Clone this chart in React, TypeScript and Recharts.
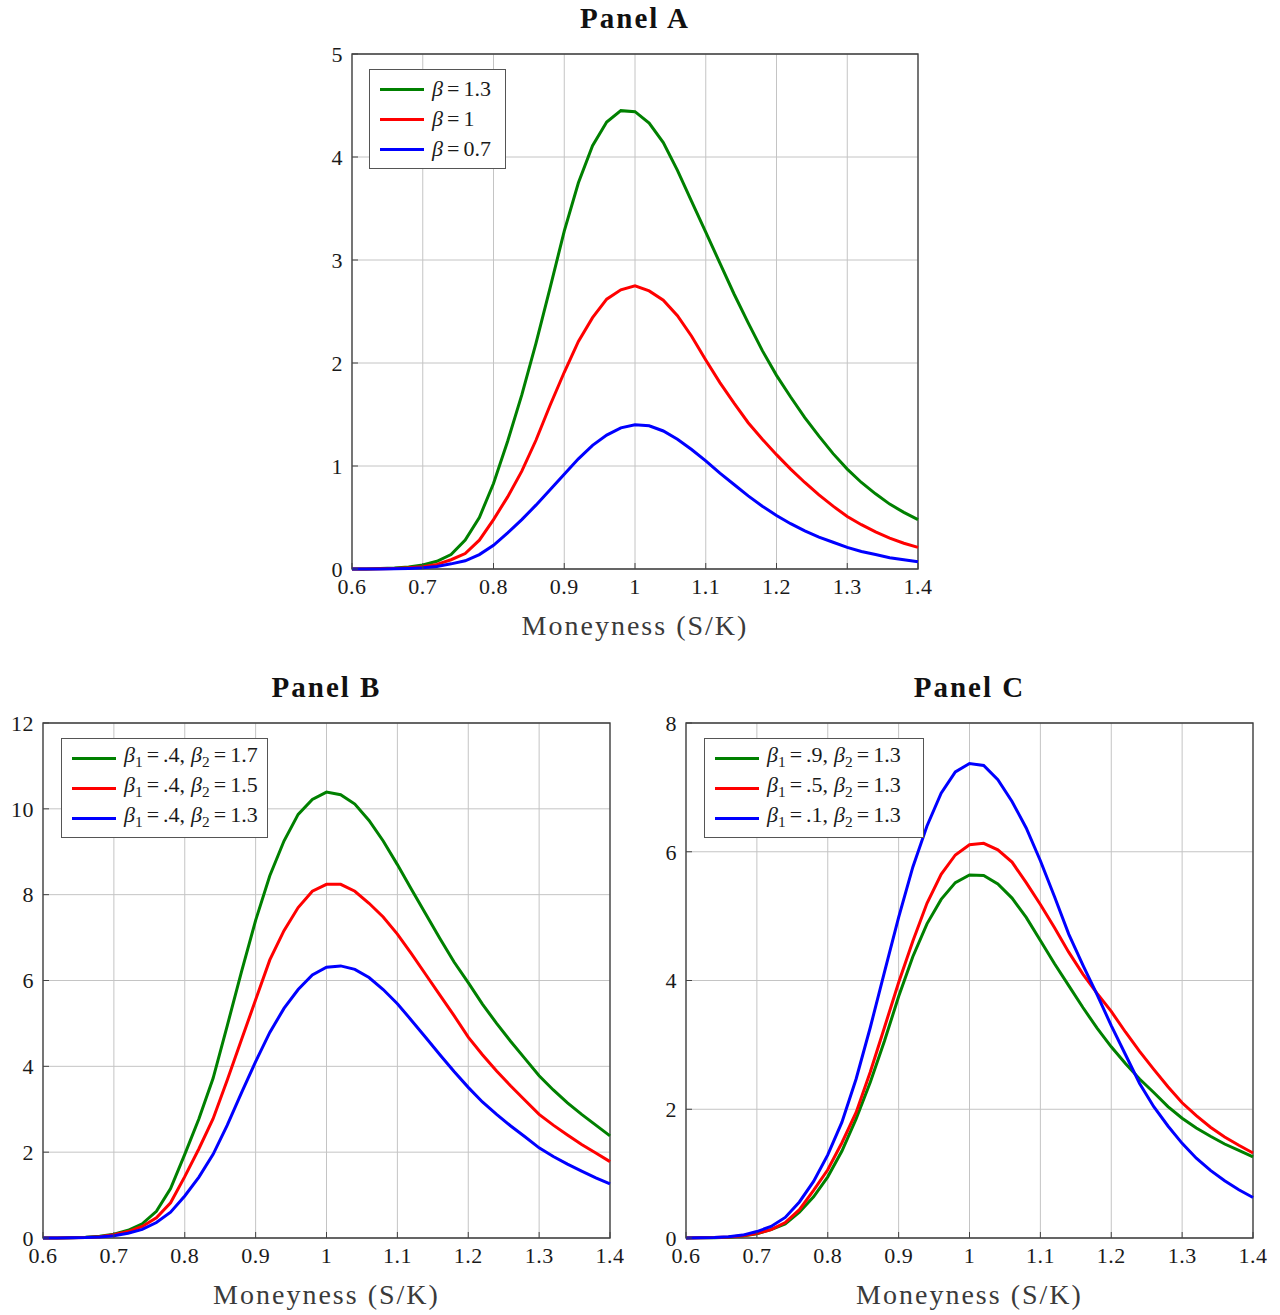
import React from 'react';
import { LineChart, Line, XAxis, YAxis, CartesianGrid, ReferenceArea } from 'recharts';

const MONEYNESS = [
  0.6, 0.62, 0.64, 0.66, 0.68, 0.7, 0.72, 0.74, 0.76, 0.78, 0.8, 0.82, 0.84, 0.86,
  0.88, 0.9, 0.92, 0.94, 0.96, 0.98, 1, 1.02, 1.04, 1.06, 1.08, 1.1, 1.12, 1.14,
  1.16, 1.18, 1.2, 1.22, 1.24, 1.26, 1.28, 1.3, 1.32, 1.34, 1.36, 1.38, 1.4,
];
const X_TICKS = [0.6, 0.7, 0.8, 0.9, 1, 1.1, 1.2, 1.3, 1.4];

// Panel A
const A_BETA_13 = [
  0, 0.001, 0.004, 0.01, 0.02, 0.04, 0.075, 0.14, 0.28, 0.5, 0.83, 1.24, 1.69, 2.19,
  2.73, 3.28, 3.75, 4.11, 4.34, 4.45, 4.44, 4.33, 4.14, 3.87, 3.57, 3.27, 2.97, 2.67,
  2.39, 2.12, 1.88, 1.67, 1.47, 1.29, 1.12, 0.97, 0.84, 0.73, 0.63, 0.55, 0.48,
];
const A_BETA_10 = [
  0, 0.0005, 0.002, 0.006, 0.012, 0.022, 0.045, 0.09, 0.15, 0.28, 0.48, 0.7, 0.95, 1.25,
  1.59, 1.91, 2.21, 2.44, 2.62, 2.71, 2.75, 2.7, 2.61, 2.46, 2.26, 2.03, 1.81, 1.61,
  1.42, 1.26, 1.11, 0.97, 0.84, 0.72, 0.61, 0.51, 0.43, 0.36, 0.3, 0.25, 0.21,
];
const A_BETA_07 = [
  0, 0.0003, 0.001, 0.003, 0.006, 0.012, 0.025, 0.05, 0.08, 0.14, 0.23, 0.35, 0.48, 0.62,
  0.77, 0.92, 1.07, 1.2, 1.3, 1.37, 1.4, 1.39, 1.34, 1.26, 1.16, 1.05, 0.93, 0.82,
  0.71, 0.61, 0.52, 0.44, 0.37, 0.31, 0.26, 0.21, 0.17, 0.14, 0.11, 0.09, 0.07,
];
const A_TICKS = [0, 1, 2, 3, 4, 5];

// Panel B
const B_B2_17 = [
  0, 0.001, 0.005, 0.015, 0.04, 0.09, 0.18, 0.33, 0.62, 1.15, 1.95, 2.78, 3.72, 4.95,
  6.2, 7.4, 8.44, 9.25, 9.87, 10.22, 10.39, 10.33, 10.11, 9.73, 9.25, 8.7, 8.12, 7.55,
  6.98, 6.43, 5.95, 5.45, 5.0, 4.58, 4.18, 3.78, 3.45, 3.15, 2.88, 2.63, 2.38,
];
const B_B2_15 = [
  0, 0.001, 0.004, 0.012, 0.03, 0.075, 0.15, 0.27, 0.47, 0.82, 1.43, 2.08, 2.78, 3.68,
  4.62, 5.55, 6.48, 7.16, 7.7, 8.08, 8.24, 8.24, 8.08, 7.8, 7.48, 7.08, 6.62, 6.14,
  5.66, 5.18, 4.68, 4.27, 3.89, 3.54, 3.21, 2.88, 2.63, 2.4, 2.18, 1.98, 1.78,
];
const B_B2_13 = [
  0, 0.001, 0.003, 0.009, 0.025, 0.055, 0.11, 0.2, 0.36, 0.6, 0.98, 1.42, 1.95, 2.63,
  3.38, 4.11, 4.79, 5.35, 5.79, 6.13, 6.31, 6.34, 6.26, 6.07, 5.79, 5.46, 5.07, 4.67,
  4.27, 3.88, 3.51, 3.17, 2.88, 2.61, 2.36, 2.1, 1.9, 1.72, 1.56, 1.4, 1.26,
];
const B_TICKS = [0, 2, 4, 6, 8, 10, 12];

// Panel C
const C_B1_09 = [
  0.001, 0.002, 0.005, 0.013, 0.03, 0.065, 0.13, 0.22, 0.4, 0.64, 0.95, 1.35, 1.85, 2.42,
  3.06, 3.75, 4.37, 4.88, 5.26, 5.52, 5.64, 5.63, 5.5, 5.28, 4.98, 4.62, 4.26, 3.92,
  3.58, 3.26, 2.97, 2.71, 2.47, 2.26, 2.04, 1.86, 1.71, 1.58, 1.46, 1.36, 1.26,
];
const C_B1_05 = [
  0.001, 0.002, 0.006, 0.015, 0.035, 0.07, 0.13, 0.24, 0.44, 0.74, 1.06, 1.48, 1.95, 2.58,
  3.27, 3.97, 4.61, 5.2, 5.65, 5.95, 6.11, 6.13, 6.03, 5.84, 5.52, 5.18, 4.82, 4.44,
  4.1, 3.8, 3.52, 3.2, 2.9, 2.62, 2.35, 2.1, 1.9, 1.72, 1.57, 1.44, 1.32,
];
const C_B1_01 = [
  0.001, 0.003, 0.008, 0.02, 0.045, 0.1, 0.18, 0.32, 0.56, 0.88, 1.29, 1.8, 2.47, 3.27,
  4.13, 4.98, 5.76, 6.4, 6.91, 7.24, 7.37, 7.34, 7.12, 6.78, 6.37, 5.86, 5.3, 4.72,
  4.24, 3.78, 3.3, 2.85, 2.4, 2.04, 1.74, 1.47, 1.24, 1.05, 0.89, 0.75, 0.63,
];
const C_TICKS = [0, 2, 4, 6, 8];

const GREEN = '#008000';
const RED = '#ff0000';
const BLUE = '#0000ff';
const FONT = 'Liberation Serif, DejaVu Serif, serif';

type LegendItem = { color: string; label: React.ReactNode };
type SeriesDef = { key: string; color: string; values: number[] };

const Beta = ({ sub }: { sub?: string }) => (
  <span>
    <span style={{ fontStyle: 'italic' }}>β</span>
    {sub && <sub style={{ fontSize: '0.7em', verticalAlign: '-0.3em' }}>{sub}</sub>}
  </span>
);
const Eq = () => <span style={{ margin: '0 4px' }}>=</span>;
const Comma = () => <span style={{ marginRight: 6 }}>,</span>;

const fmtX = (v: number) => (Math.abs(v - 1) < 1e-9 ? '1' : String(v));

interface PanelProps {
  title: string;
  left: number;
  top: number;
  plotW: number;
  plotH: number;
  yMax: number;
  yTicks: number[];
  series: SeriesDef[];
  legend: LegendItem[];
  legendBox: { left: number; top: number; width: number };
}

const Panel: React.FC<PanelProps> = ({ title, left, top, plotW, plotH, yMax, yTicks, series, legend, legendBox }) => {
  const data = MONEYNESS.map((x, i) => {
    const row: Record<string, number> = { x };
    series.forEach((s) => {
      row[s.key] = s.values[i];
    });
    return row;
  });
  const tickStyle = { fontFamily: FONT, fontSize: 22, fill: '#1a1a1a', letterSpacing: 0.5 };

  return (
    <>
      <div
        style={{
          position: 'absolute',
          left,
          top: top - 52,
          width: plotW,
          textAlign: 'center',
          fontFamily: FONT,
          fontWeight: 'bold',
          fontSize: 29,
          letterSpacing: 2,
          color: '#111',
        }}
      >
        {title}
      </div>
      <div style={{ position: 'absolute', left: left - 60, top: top - 20 }}>
        <LineChart width={plotW + 90} height={plotH + 100} data={data} margin={{ top: 20, right: 30, bottom: 0, left: 0 }}>
          <CartesianGrid stroke="#c4c4c4" strokeWidth={1} />
          <XAxis
            dataKey="x"
            type="number"
            domain={[0.6, 1.4]}
            ticks={X_TICKS}
            tickFormatter={fmtX}
            height={80}
            axisLine={false}
            tickSize={-6}
            tickMargin={15}
            tickLine={{ stroke: '#444' }}
            tick={tickStyle}
            interval={0}
            label={{
              value: 'Moneyness (S/K)',
              position: 'insideBottom',
              offset: 14,
              style: { fontFamily: FONT, fontSize: 28, fill: '#3a3a3a', letterSpacing: 2 },
            }}
          />
          <XAxis
            xAxisId="top"
            dataKey="x"
            type="number"
            orientation="top"
            domain={[0.6, 1.4]}
            ticks={X_TICKS}
            height={0}
            axisLine={false}
            tick={false}
            tickSize={-6}
            tickLine={{ stroke: '#444' }}
          />
          <YAxis
            type="number"
            domain={[0, yMax]}
            ticks={yTicks}
            width={60}
            axisLine={false}
            tickSize={-6}
            tickMargin={15}
            tickLine={{ stroke: '#444' }}
            tick={tickStyle}
            interval={0}
          />
          <YAxis
            yAxisId="right"
            type="number"
            orientation="right"
            domain={[0, yMax]}
            ticks={yTicks}
            width={0}
            axisLine={false}
            tick={false}
            tickSize={-6}
            tickLine={{ stroke: '#444' }}
          />
          <ReferenceArea x1={0.6} x2={1.4} y1={0} y2={yMax} fill="none" stroke="#3c3c3c" strokeWidth={1.3} />
          {series.map((s) => (
            <Line
              key={s.key}
              type="linear"
              dataKey={s.key}
              stroke={s.color}
              strokeWidth={3}
              dot={false}
              isAnimationActive={false}
            />
          ))}
        </LineChart>
      </div>
      <div
        style={{
          position: 'absolute',
          left: legendBox.left,
          top: legendBox.top,
          width: legendBox.width,
          height: 100,
          boxSizing: 'border-box',
          border: '1px solid #555',
          background: '#fff',
          paddingTop: 4,
          fontFamily: FONT,
          fontSize: 22,
          color: '#1a1a1a',
        }}
      >
        {legend.map((item, i) => (
          <div key={i} style={{ height: 30, display: 'flex', alignItems: 'center' }}>
            <div style={{ marginLeft: 10, width: 44, height: 3, background: item.color }} />
            <div style={{ marginLeft: 8, whiteSpace: 'nowrap', lineHeight: '30px' }}>{item.label}</div>
          </div>
        ))}
      </div>
    </>
  );
};

export default function App() {
  return (
    <div style={{ position: 'absolute', left: 0, top: 0, width: 1280, height: 1315, background: '#fff' }}>
      <Panel
        title="Panel A"
        left={352}
        top={54}
        plotW={566}
        plotH={515}
        yMax={5}
        yTicks={A_TICKS}
        series={[
          { key: 'b13', color: GREEN, values: A_BETA_13 },
          { key: 'b10', color: RED, values: A_BETA_10 },
          { key: 'b07', color: BLUE, values: A_BETA_07 },
        ]}
        legend={[
          { color: GREEN, label: <><Beta /><Eq />1.3</> },
          { color: RED, label: <><Beta /><Eq />1</> },
          { color: BLUE, label: <><Beta /><Eq />0.7</> },
        ]}
        legendBox={{ left: 369, top: 69, width: 137 }}
      />
      <Panel
        title="Panel B"
        left={43}
        top={723}
        plotW={567}
        plotH={515}
        yMax={12}
        yTicks={B_TICKS}
        series={[
          { key: 'g', color: GREEN, values: B_B2_17 },
          { key: 'r', color: RED, values: B_B2_15 },
          { key: 'b', color: BLUE, values: B_B2_13 },
        ]}
        legend={[
          { color: GREEN, label: <><Beta sub="1" /><Eq />.4<Comma /><Beta sub="2" /><Eq />1.7</> },
          { color: RED, label: <><Beta sub="1" /><Eq />.4<Comma /><Beta sub="2" /><Eq />1.5</> },
          { color: BLUE, label: <><Beta sub="1" /><Eq />.4<Comma /><Beta sub="2" /><Eq />1.3</> },
        ]}
        legendBox={{ left: 61, top: 738, width: 207 }}
      />
      <Panel
        title="Panel C"
        left={686}
        top={723}
        plotW={567}
        plotH={515}
        yMax={8}
        yTicks={C_TICKS}
        series={[
          { key: 'g', color: GREEN, values: C_B1_09 },
          { key: 'r', color: RED, values: C_B1_05 },
          { key: 'b', color: BLUE, values: C_B1_01 },
        ]}
        legend={[
          { color: GREEN, label: <><Beta sub="1" /><Eq />.9<Comma /><Beta sub="2" /><Eq />1.3</> },
          { color: RED, label: <><Beta sub="1" /><Eq />.5<Comma /><Beta sub="2" /><Eq />1.3</> },
          { color: BLUE, label: <><Beta sub="1" /><Eq />.1<Comma /><Beta sub="2" /><Eq />1.3</> },
        ]}
        legendBox={{ left: 704, top: 738, width: 220 }}
      />
    </div>
  );
}
